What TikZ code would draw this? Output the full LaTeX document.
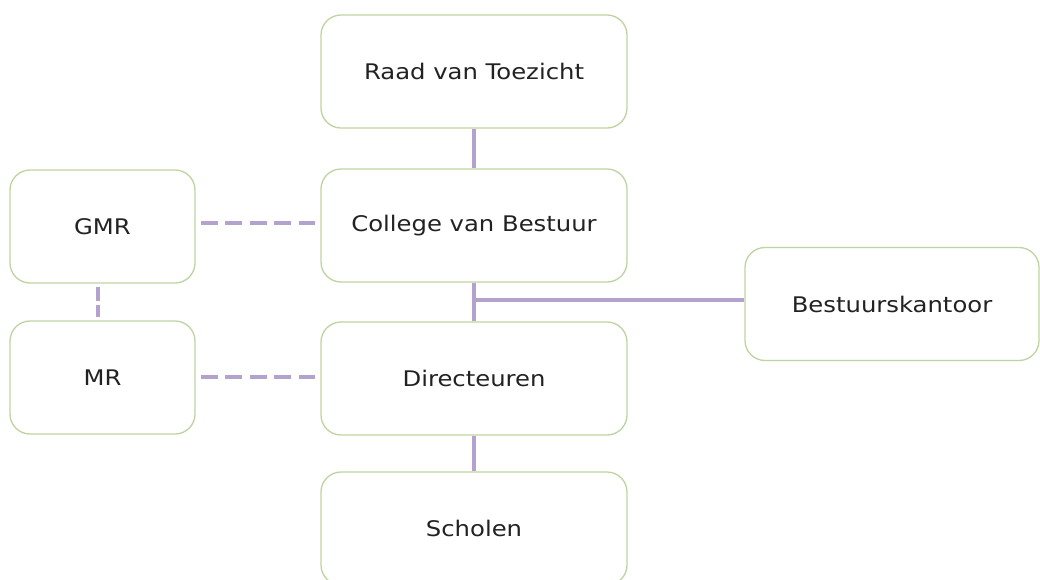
\documentclass[tikz,border=0pt]{standalone}
\usepackage{fontspec}
\newfontfamily\orgfont[FakeStretch=1.13]{DejaVu Sans}
\definecolor{orggreen}{RGB}{190,212,160}
\definecolor{orgpurple}{RGB}{180,162,206}
\definecolor{orgtext}{RGB}{34,34,34}
\tikzset{
  orgbox/.style={draw=orggreen,line width=1.3pt,rounded corners=20pt,fill=white,
    minimum height=113pt,inner sep=0pt,text=orgtext,
    font=\orgfont\fontsize{21.5}{24}\selectfont},
  orgline/.style={draw=orgpurple,line width=4pt},
  orgdash/.style={orgline,dash pattern=on 17pt off 7.5pt,shorten <=5pt,shorten >=5pt}
}
\begin{document}
\begin{tikzpicture}[x=1pt,y=-1pt]
  \useasboundingbox (0,0) rectangle (1040,579);
  % main column
  \node[orgbox,minimum width=306pt] (rvt) at (474,71.5) {Raad van Toezicht};
  \node[orgbox,minimum width=306pt] (cvb) at (474,225.5) {College van Bestuur};
  \node[orgbox,minimum width=306pt] (dir) at (474,378.5) {Directeuren};
  \node[orgbox,minimum width=306pt] (sch) at (474,528.5) {Scholen};
  % participation
  \node[orgbox,minimum width=185pt] (gmr) at (102.5,226.5) {GMR};
  \node[orgbox,minimum width=185pt] (mr) at (102.5,377.5) {MR};
  % office
  \node[orgbox,minimum width=294pt] (bk) at (892,304) {Bestuurskantoor};
  \coordinate (split) at (cvb.south |- 0,300);
  \draw[orgline] (rvt.south) -- (cvb.north);
  \draw[orgline] (cvb.south) -- (dir.north);
  \draw[orgline] (dir.south) -- (sch.north);
  \draw[orgline] (split) -- (bk.west |- split);
  \draw[orgdash] (gmr.east |- 0,223) -- (cvb.west |- 0,223);
  \draw[orgdash] (mr.east |- 0,377) -- (dir.west |- 0,377);
  \draw[orgdash,dash pattern=on 14pt off 4pt,shorten <=3pt,shorten >=3pt]
    (gmr.south -| 98,0) -- (mr.north -| 98,0);
\end{tikzpicture}
\end{document}
